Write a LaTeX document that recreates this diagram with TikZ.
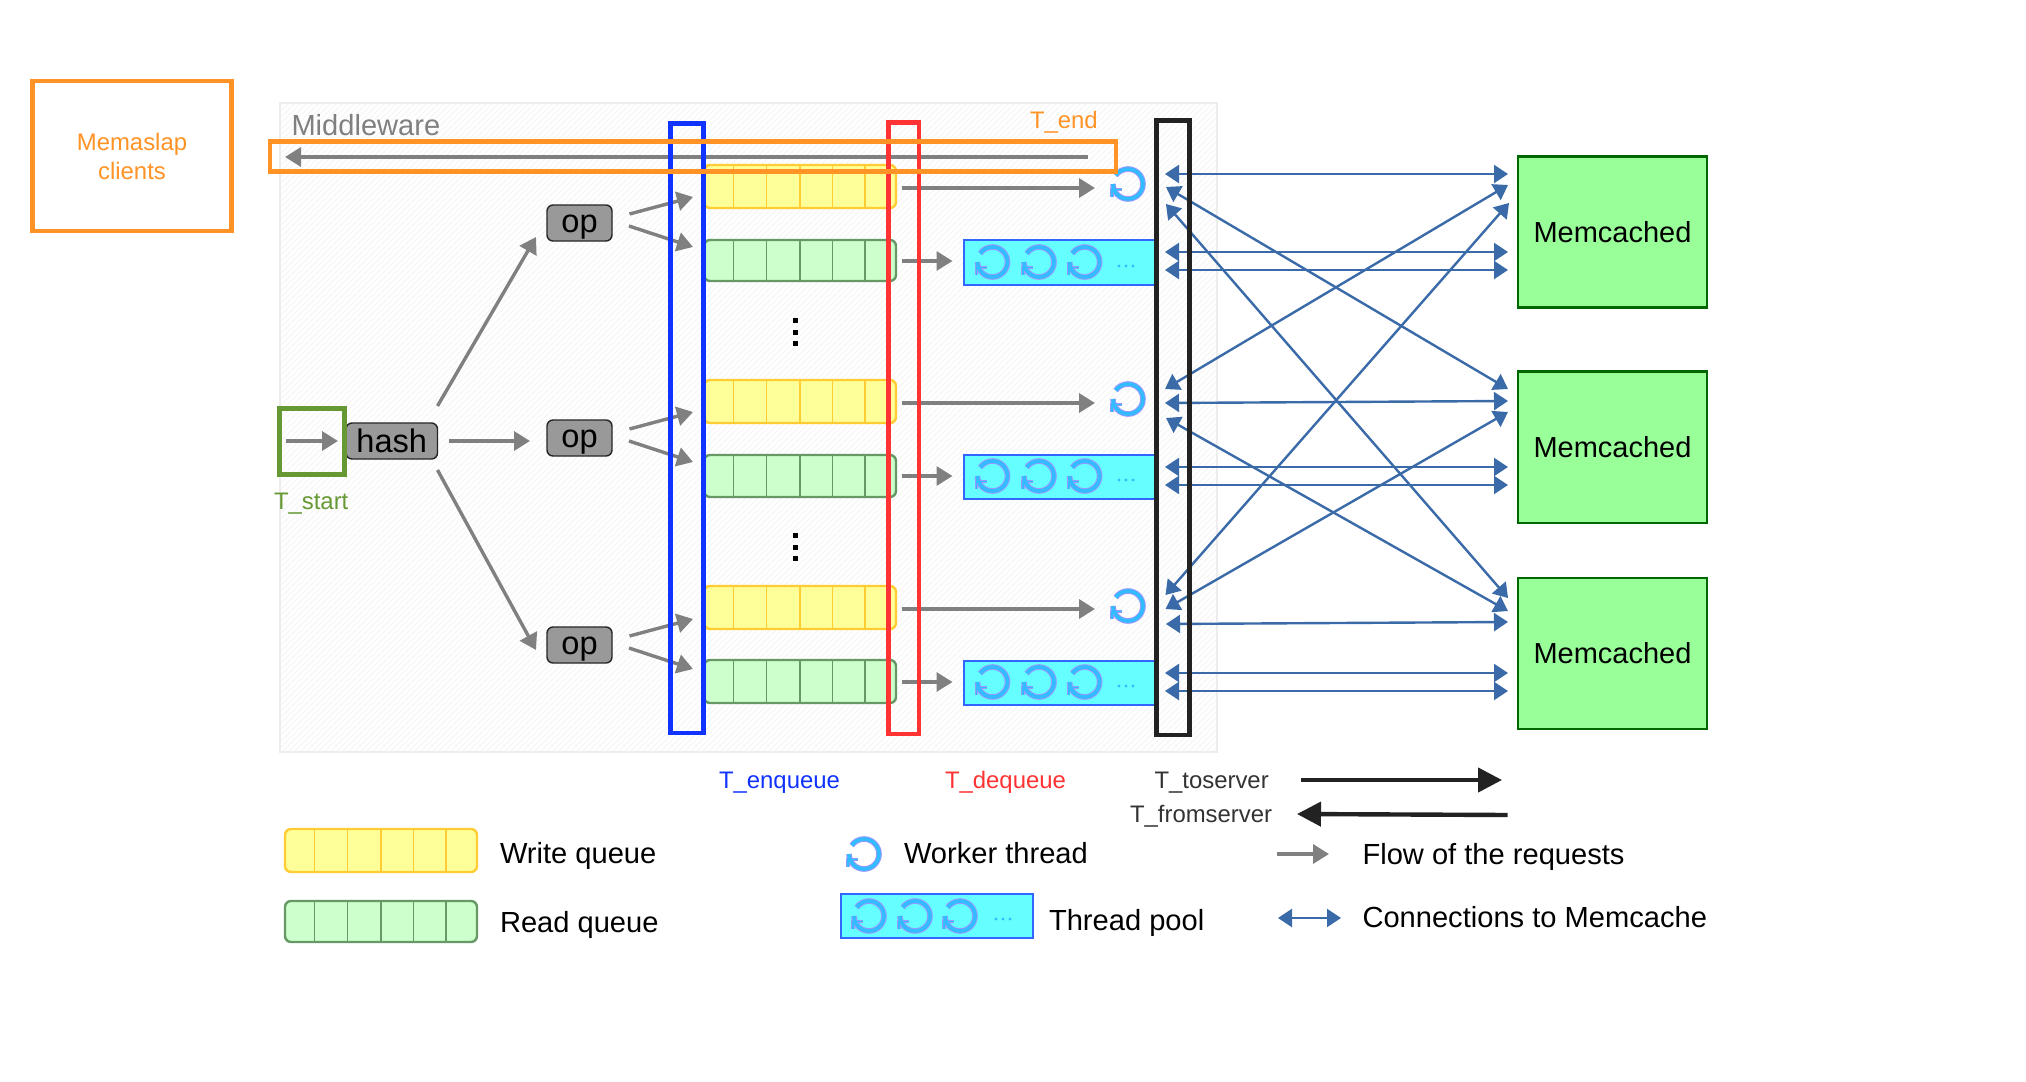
\documentclass[tikz,border=0pt]{standalone}
\usepackage{fontspec}
\setmainfont{Liberation Sans}
\usetikzlibrary{arrows.meta,patterns}
\definecolor{cOrange}{HTML}{FF9326}
\definecolor{cRed}{HTML}{FF3333}
\definecolor{cBlue}{HTML}{1133FF}
\definecolor{cGreen}{HTML}{669933}
\definecolor{cBlack}{HTML}{222222}
\definecolor{cGray}{HTML}{808080}
\definecolor{cLink}{HTML}{3A6BA8}
\definecolor{cYellowF}{HTML}{FFFF99}
\definecolor{cYellowD}{HTML}{FFCC33}
\definecolor{cGreenF}{HTML}{CCFFCC}
\definecolor{cGreenD}{HTML}{669966}
\definecolor{cServerF}{HTML}{99FF99}
\definecolor{cServerD}{HTML}{006600}
\definecolor{cPoolF}{HTML}{66FFFF}
\definecolor{cPoolD}{HTML}{3366FF}
\definecolor{cRing}{HTML}{33BBFF}
\definecolor{cHalo}{HTML}{9999FF}
\tikzset{
  box/.style={rectangle,inner sep=0pt,outer sep=0pt},
  panelbox/.style={box,draw=black!7,line width=.8pt,pattern=north east lines,pattern color=black!4},
  orangebox/.style={box,draw=cOrange,line width=2.3pt},
  greenbox/.style={box,draw=cGreen,line width=2.4pt},
  bluebox/.style={box,draw=cBlue,line width=2.3pt},
  redbox/.style={box,draw=cRed,line width=2.3pt},
  blackbox/.style={box,draw=cBlack,line width=2.4pt},
  graybox/.style={box,rounded corners=3pt,draw=black!85,line width=.7pt,fill=black!40,font=\fontsize{16.3}{18}\selectfont},
  writeq/.style={box,rounded corners=3pt,draw=cYellowD,line width=1.2pt,fill=cYellowF},
  readq/.style={box,rounded corners=3pt,draw=cGreenD,line width=1.2pt,fill=cGreenF},
  poolbox/.style={box,draw=cPoolD,line width=1pt,fill=cPoolF},
  server/.style={box,draw=cServerD,line width=1.2pt,fill=cServerF,font=\fontsize{14.5}{18}\selectfont},
  lbl/.style={inner sep=0pt,outer sep=0pt,anchor=base west,font=\fontsize{11.95}{14}\selectfont},
  big/.style={inner sep=0pt,outer sep=0pt,anchor=base west,font=\fontsize{14.55}{18}\selectfont},
  flow/.style={draw=cGray,line width=1.7pt,-{Triangle[length=8pt,width=9.5pt]}},
  conn/.style={draw=cLink,line width=1.2pt,{Triangle[length=7pt,width=9pt]}-{Triangle[length=7pt,width=9pt]}},
  heavy/.style={draw=cBlack,line width=2.2pt,-{Triangle[length=12pt,width=12pt]}},
  pics/worker/.style={code={
    \draw[cHalo,line width=2.8pt] (-15,0) arc[start angle=180,end angle=505,radius=7.5pt];
    \draw[cHalo,line width=1.7pt,line join=miter] (-16,13) -- (-16,5.5) -- (-6,5.5);
    \draw[cRing,line width=1.8pt] (-15,0) arc[start angle=180,end angle=505,radius=7.5pt];
    \draw[cRing,line width=.9pt,line join=miter] (-16,13) -- (-16,5.5) -- (-6,5.5);
  }},
  pics/pooldots/.style={code={
    \foreach \d in {-7,0,7}{\fill[cRing] (\d,0) circle[radius=.8pt];}
  }}
}
\newcommand{\rectnode}[7]{%
  \pgfmathsetmacro{\cxx}{(#3+#5)/2}\pgfmathsetmacro{\cyy}{(#4+#6)/2}%
  \pgfmathsetmacro{\ww}{(#5-#3)*0.5}\pgfmathsetmacro{\hh}{(#6-#4)*0.5}%
  \node[#1,minimum width=\ww pt,minimum height=\hh pt] (#2) at (\cxx,\cyy) {#7};}
\newcommand{\link}[6]{%
  \coordinate (#2-a) at (#3); \coordinate (#2-b) at (#4);
  \draw[#1] (#2-#5) -- (#2-#6);}
\newcommand{\queue}[5]{%
  \rectnode{#1}{#2}{#3}{#4}{#3+192}{#5}{}%
  \foreach \dx in {29.5,62.5,96,128.5,161}{\draw[#1,fill=none,rounded corners=0pt,line width=.8pt] (#3+\dx,#4) -- (#3+\dx,#5);}}
\newcommand{\optext}{\smash{\raisebox{-4.9pt}{op}}}
\begin{document}
\begin{tikzpicture}[x=0.5pt,y=-0.5pt]
\useasboundingbox (0,0) rectangle (2026,1082);
\fill[white] (0,0) rectangle (2026,1082);
% Panel
\rectnode{panelbox}{panel}{280}{103}{1217}{752}{}
\node[big,text=cGray] (mw) at (291.5,135) {Middleware};
% Clients
\node[lbl,anchor=base,text=cOrange] (cl1) at (132,150) {Memaslap};
\node[lbl,anchor=base,text=cOrange] (cl2) at (132,179) {clients};
% Hash and ops
\rectnode{graybox}{hash}{346}{423}{437.5}{459}{hash}
\rectnode{graybox}{op1}{547}{205}{612}{241}{\optext}
\rectnode{graybox}{op2}{547}{420}{612}{456}{\optext}
\rectnode{graybox}{op3}{547}{627}{612}{663}{\optext}
% Queues
\queue{writeq}{w1}{704}{165}{208}
\queue{readq}{r1}{704}{240}{281}
\queue{writeq}{w2}{704}{380}{423}
\queue{readq}{r2}{704}{455}{497}
\queue{writeq}{w3}{704}{586}{629}
\queue{readq}{r3}{704}{660}{703}
% Vertical dots
\foreach \yy in {320,332,343,535,547,558}{\fill[black] (792.5,\yy-2.5) rectangle (797.5,\yy+2.5);}
% Pools
\rectnode{poolbox}{p1}{964}{240}{1156}{285}{}
\rectnode{poolbox}{p2}{964}{455}{1156}{499}{}
\rectnode{poolbox}{p3}{964}{661}{1156}{705}{}
\foreach \yy/\dy in {262/4,476/4,682/4}{
  \foreach \xx in {992.5,1039,1084.6}{\pic at (\xx,\yy) {worker};}
  \pic at (1126,\yy+\dy) {pooldots};
}
% Workers
\pic at (1128,184) {worker};
\pic at (1128,399) {worker};
\pic at (1128,606) {worker};
% Flow arrows
\link{flow}{back}{1088,157}{285,157}{a}{b}
\link{flow}{in}{286,441}{338,441}{a}{b}
\link{flow}{h1}{437.5,406}{536,237}{a}{b}
\link{flow}{h2}{449,441}{530,441}{a}{b}
\link{flow}{h3}{437.5,470}{536,650}{a}{b}
\link{flow}{o1a}{629.5,214}{693,197}{a}{b}
\link{flow}{o1b}{629,226}{693,247}{a}{b}
\link{flow}{o2a}{629.5,429}{693,412}{a}{b}
\link{flow}{o2b}{629,441}{693,462}{a}{b}
\link{flow}{o3a}{629.5,636}{693,619}{a}{b}
\link{flow}{o3b}{629,648}{693,669}{a}{b}
\link{flow}{q1}{901.5,188}{1095,188}{a}{b}
\link{flow}{q2}{901.5,261}{952.5,261}{a}{b}
\link{flow}{q3}{901.5,403}{1095,403}{a}{b}
\link{flow}{q4}{901.5,476}{952.5,476}{a}{b}
\link{flow}{q5}{901.5,609}{1095,609}{a}{b}
\link{flow}{q6}{901.5,682}{952.5,682}{a}{b}
% Connections
\link{conn}{c1}{1165,174}{1508,174}{a}{b}
\link{conn}{c2}{1165,252}{1508,252}{a}{b}
\link{conn}{c3}{1165,270}{1508,270}{a}{b}
\link{conn}{c4}{1165,403}{1508,401}{a}{b}
\link{conn}{c5}{1165,467}{1508,467}{a}{b}
\link{conn}{c6}{1165,485}{1508,485}{a}{b}
\link{conn}{c7}{1166,624}{1508,622}{a}{b}
\link{conn}{c8}{1165,673}{1508,673}{a}{b}
\link{conn}{c9}{1165,691}{1508,691}{a}{b}
\link{conn}{d1}{1166,187}{1508,389}{a}{b}
\link{conn}{d2}{1166,204}{1508,598}{a}{b}
\link{conn}{d3}{1165,389}{1508,185}{a}{b}
\link{conn}{d4}{1166,418}{1508,611}{a}{b}
\link{conn}{d5}{1165.5,595}{1509,203}{a}{b}
\link{conn}{d6}{1165.5,609}{1508,412}{a}{b}
% Servers
\rectnode{server}{s1}{1518}{156.5}{1707}{307.5}{Memcached}
\rectnode{server}{s2}{1518}{371.5}{1707}{523}{Memcached}
\rectnode{server}{s3}{1518}{578}{1707}{729}{Memcached}
% Timing boxes
\rectnode{bluebox}{tenq}{670.5}{123.5}{703.5}{733}{}
\rectnode{redbox}{tdeq}{888.5}{122.5}{919}{734}{}
\rectnode{blackbox}{tsrv}{1156.5}{120.5}{1189.5}{735}{}
\rectnode{orangebox}{tendbox}{270}{141.5}{1116}{171.5}{}
\rectnode{orangebox}{clients}{32.5}{81}{231.5}{231}{}
\rectnode{greenbox}{tstartbox}{279.5}{408.5}{344.5}{474.5}{}
% Labels
\node[lbl,text=cOrange] (tend) at (1030,128) {T\_end};
\node[lbl,text=cGreen] (tstart) at (274,509) {T\_start};
\node[lbl,text=cBlue] (tenql) at (719,788) {T\_enqueue};
\node[lbl,text=cRed] (tdeql) at (945,788) {T\_dequeue};
\node[lbl,text=black!80] (tto) at (1154.5,788) {T\_toserver};
\node[lbl,text=black!80] (tfrom) at (1130,822.5) {T\_fromserver};
\link{heavy}{ha}{1301,780}{1502,780}{a}{b}
\link{heavy}{hb}{1507.5,815}{1297,814}{a}{b}
% Legend
\queue{writeq}{lw}{285}{829}{872}
\queue{readq}{lr}{285}{901}{942}
\node[big] (lwt) at (500,863.5) {Write queue};
\node[big] (lrt) at (500,932) {Read queue};
\pic at (864,854) {worker};
\node[big] (lwk) at (904,863.5) {Worker thread};
\rectnode{poolbox}{lp}{841}{894}{1033}{938}{}
\foreach \xx in {869,915,960}{\pic at (\xx,916) {worker};}
\pic at (1003,919) {pooldots};
\node[big] (lpt) at (1049,930) {Thread pool};
\link{flow}{lf}{1277,854}{1329,854}{a}{b}
\link{conn}{lc}{1278,918}{1341,918}{a}{b}
\node[big] (lft) at (1362.5,864) {Flow of the requests};
\node[big] (lct) at (1362.5,927.5) {Connections to Memcache};
\end{tikzpicture}
\end{document}
